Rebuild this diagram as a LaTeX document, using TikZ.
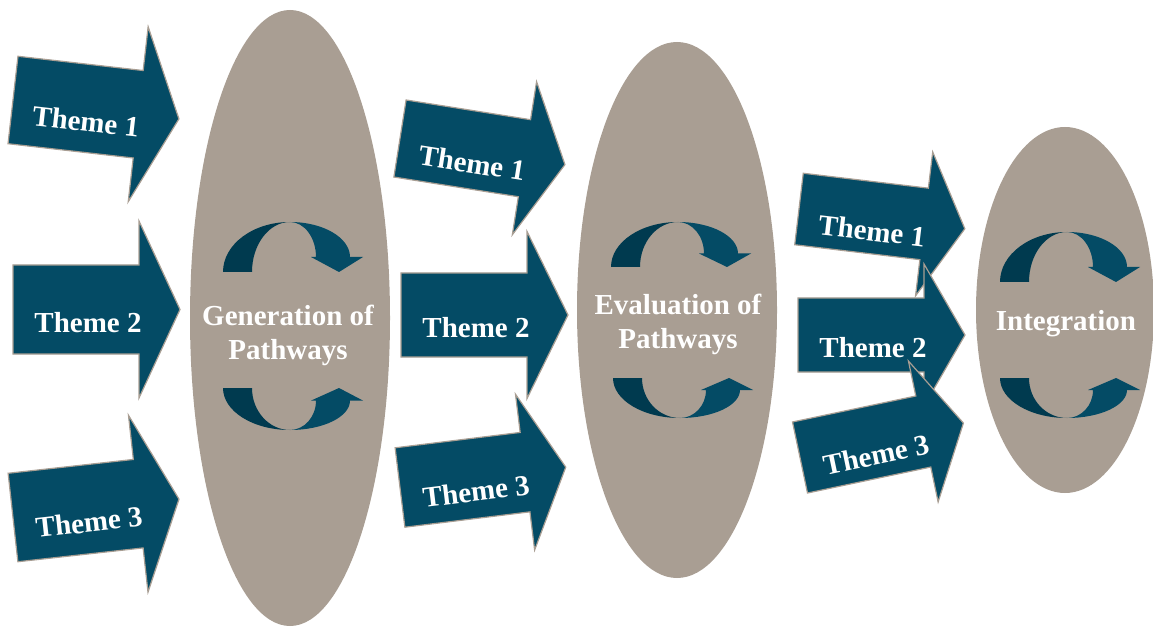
\documentclass[tikz,border=0pt]{standalone}
\usepackage{fontspec}
\setmainfont{Liberation Serif}
\usetikzlibrary{shapes.geometric}
\definecolor{petrol}{HTML}{044B65}
\definecolor{petroldark}{HTML}{003A4F}
\definecolor{taupe}{HTML}{A99E93}
\tikzset{phase/.style = {ellipse, fill = taupe, inner sep = 0pt},
	 phase text/.style = {text = white, align = center,
			      font = \fontsize{21.75}{25.5}\selectfont\bfseries},
	 theme arrow/.style = {fill = petrol, draw = taupe, line width = 0.9pt},
	 theme text/.style = {text = white, transform shape,
			      font = \fontsize{21.75}{25.5}\selectfont\bfseries},
	 pics/theme/.style n args = {3}{code = {
	     \filldraw[theme arrow] (0,-#1) -- (126,-#1) -- (126,-#2) -- (167,0)
		 -- (126,#2) -- (126,#1) -- (0,#1) -- cycle;
	     \node[theme text] (-text) at (75,13) {#3};}},
	 pics/cycle/.style = {code = {
	     \fill[petroldark] (-67,0) arc [start angle = 180, end angle = 270,
					    x radius = 67, y radius = 50]
		 arc [start angle = 270, end angle = 180, x radius = 38, y radius = 50]
		 -- cycle;
	     \fill[petrol] (0,-50) arc [start angle = 270, end angle = 360,
					x radius = 60, y radius = 35]
		 -- (73,-15) -- (49,0) -- (21,-15) -- (26,-15)
		 arc [start angle = 0, end angle = -90, x radius = 26, y radius = 35]
		 -- cycle;}}}

\begin{document}
\begin{tikzpicture}[x = 0.75pt, y = -0.75pt]
      \useasboundingbox (0,0) rectangle (1153,627);
      % the three phases
      \node [phase, minimum width = 150pt, minimum height = 462pt] (gen) at (290,318) {};
      \node [phase, minimum width = 150pt, minimum height = 402pt] (eval) at (677,310) {};
      \node [phase, minimum width = 133.5pt, minimum height = 274.5pt] (integ) at (1065,310) {};
      % themes going in
      \pic [rotate = -6.5] (g1) at (13,100) {theme = {44}{88}{Theme 1}};
      \pic (g2) at (13,309.5) {theme = {44.5}{88.5}{Theme 2}};
      \pic [rotate = 6.3] (g3) at (13,517.5) {theme = {44.5}{89}{Theme 3}};
      \pic [rotate = -9] (e1) at (400,138.5) {theme = {39}{77.5}{Theme 1}};
      \pic (e2) at (401,315) {theme = {42}{83.5}{Theme 2}};
      \pic [rotate = 7] (e3) at (400,487.5) {theme = {40}{78.5}{Theme 3}};
      \pic [rotate = -6.8] (i1) at (799,209) {theme = {36}{72.5}{Theme 1}};
      \pic (i2) at (798,335) {theme = {37}{71}{Theme 2}};
      \pic [rotate = 11.9] (i3) at (800,457.5) {theme = {36.3}{72}{Theme 3}};
      % cycles
      \pic at (290,272) {cycle};
      \pic [yscale = -0.84] at (290,388) {cycle};
      \pic [yscale = 0.9] at (678,267) {cycle};
      \pic [yscale = -0.8] at (680,378) {cycle};
      \pic at (1067,282) {cycle};
      \pic [yscale = -0.8] at (1067,378) {cycle};
      % labels
      \node [phase text] (gen-text) at (288,335) {Generation of\\Pathways};
      \node [phase text] (eval-text) at (678,324) {Evaluation of\\Pathways};
      \node [phase text] (integ-text) at (1066,324) {Integration};
\end{tikzpicture}
\end{document}
